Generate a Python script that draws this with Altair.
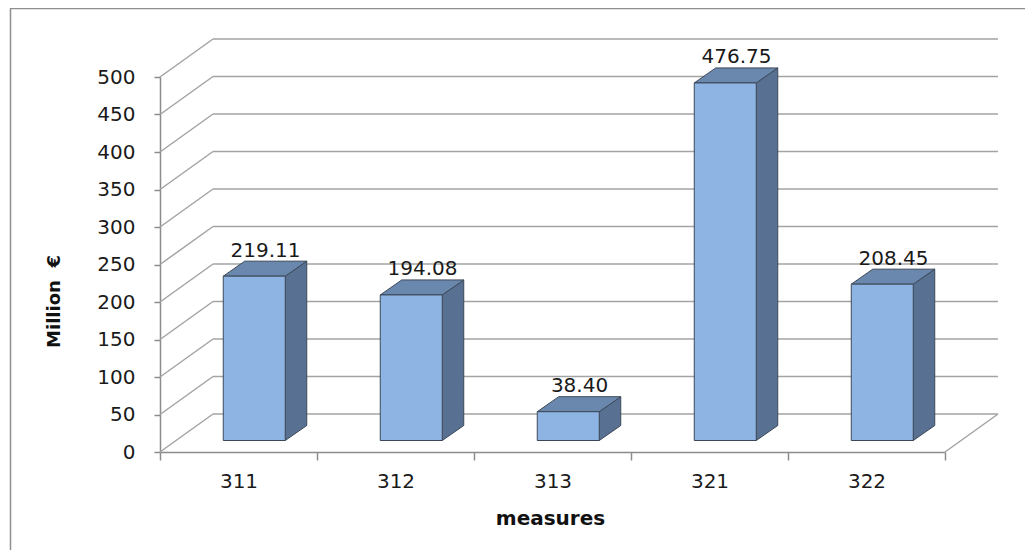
import json
import altair as alt
import pandas as pd

# ---- data ----
categories = ["311", "312", "313", "321", "322"]
values = [219.11, 194.08, 38.40, 476.75, 208.45]
value_labels = ["219.11", "194.08", "38.40", "476.75", "208.45"]
y_ticks = list(range(0, 501, 50))

# ---- geometry / style constants ----
W, H = 785, 375
X_MAX, Y_MAX = len(categories), 500
PX_X = W / X_MAX          # px per x unit
PX_Y = H / Y_MAX          # px per y unit
WALL_DX, WALL_DY = 53, 38           # perspective depth of the back wall (px)
BAR_DX, BAR_DY = 21.5, 15           # depth of each bar (px)
FRONT_DX = (WALL_DX - BAR_DX) / 2   # bars sit in the middle of the depth
FRONT_DY = (WALL_DY - BAR_DY) / 2
BAR_W = 62 / PX_X                   # bar width in x units
DDX = BAR_DX / PX_X
DDY = BAR_DY / PX_Y

FONT = "DejaVu Sans"
GRID = "#a3a3a3"
AXIS = "#8c8c8c"
FRONT = "#8db4e2"
TOP = "#6a88ae"
SIDE = "#587193"
EDGE = "#3c4858"

xs = alt.Scale(domain=[0, X_MAX], nice=False, zero=False)
ys = alt.Scale(domain=[0, Y_MAX], nice=False)

bars = pd.DataFrame({
    "name": categories,
    "value": values,
    "label": value_labels,
    "xc": [i + 0.5 for i in range(len(categories))],
})
bars["xl"] = bars["xc"] - BAR_W / 2
bars["xr"] = bars["xc"] + BAR_W / 2

side_rows, top_rows = [], []
for name, v, xl, xr in zip(bars["name"], bars["value"], bars["xl"], bars["xr"]):
    side_rows.append({"name": name, "sx": xr, "sy": v, "sy2": 0.0})
    side_rows.append({"name": name, "sx": xr + DDX, "sy": v + DDY, "sy2": DDY})
    top_rows.append({"name": name, "ty": v, "tx": xl, "tx2": xr})
    top_rows.append({"name": name, "ty": v + DDY, "tx": xl + DDX, "tx2": xr + DDX})
side = pd.DataFrame(side_rows)
top = pd.DataFrame(top_rows)
grid = pd.DataFrame({"v": y_ticks})
one = pd.DataFrame({"a": [0]})

labels_js = json.dumps(categories)

x_axis = alt.Axis(
    values=list(range(X_MAX + 1)), labelExpr=f"{labels_js}[datum.value] || ''",
    labelOffset=PX_X / 2, labelFlush=False, labelOverlap=False,
    tickSize=8, tickColor=AXIS, domainColor=AXIS, domainWidth=1.5, tickWidth=1.5,
    grid=False, labelPadding=11, labelFontSize=20, labelColor="#1a1a1a",
    title="measures", titleFontSize=20, titleFontWeight="bold", titleColor="#111",
    titleX=390, titleY=72, titleAlign="center", titleBaseline="alphabetic",
)
y_axis = alt.Axis(
    values=y_ticks, tickSize=6, tickColor=AXIS, domainColor=AXIS, domainWidth=1.5,
    tickWidth=1.5, grid=False, labelPadding=19, labelFontSize=20, labelColor="#1a1a1a",
    labelOverlap=False, labelFlush=False,
    title="Million\u00a0\u00a0€", titleFontSize=18, titleFontWeight="bold", titleColor="#111",
    titleAngle=270, titleX=-106, titleY=224, titleAlign="center",
    titleBaseline="middle",
)


def X(field=None, **kw):
    if field is None:
        return alt.X(scale=xs, axis=x_axis, type="quantitative", **kw)
    return alt.X(field, scale=xs, axis=x_axis, **kw)


def Y(field=None, **kw):
    if field is None:
        return alt.Y(scale=ys, axis=y_axis, type="quantitative", **kw)
    return alt.Y(field, scale=ys, axis=y_axis, **kw)


# ---- back wall grid (perspective) ----
grid_diag = alt.Chart(grid).mark_rule(
    color=GRID, strokeWidth=1.5, x2Offset=WALL_DX, y2Offset=-WALL_DY
).encode(x=X(datum=0), x2=alt.datum(0), y=Y("v:Q"), y2="v:Q")

grid_back = alt.Chart(grid).mark_rule(
    color=GRID, strokeWidth=1.5, xOffset=WALL_DX, x2Offset=WALL_DX,
    yOffset=-WALL_DY, y2Offset=-WALL_DY
).encode(x=X(datum=0), x2=alt.datum(X_MAX), y=Y("v:Q"))

floor_right = alt.Chart(one).mark_rule(
    color=GRID, strokeWidth=1.5, x2Offset=WALL_DX, y2Offset=-WALL_DY
).encode(x=X(datum=X_MAX), x2=alt.datum(X_MAX), y=Y(datum=0), y2=alt.datum(0))

# ---- bar faces ----
side_face = alt.Chart(side).mark_area(
    color=SIDE, stroke=EDGE, strokeWidth=1,
    xOffset=FRONT_DX, yOffset=-FRONT_DY, y2Offset=-FRONT_DY
).encode(x=X("sx:Q"), y=Y("sy:Q", stack=None), y2="sy2:Q", detail="name:N")

top_face = alt.Chart(top).mark_area(
    orient="horizontal", color=TOP, stroke=EDGE, strokeWidth=1,
    xOffset=FRONT_DX, x2Offset=FRONT_DX, yOffset=-FRONT_DY
).encode(y=Y("ty:Q"), x=X("tx:Q", stack=None), x2="tx2:Q", detail="name:N")

front_face = alt.Chart(bars).mark_rect(
    color=FRONT, stroke=EDGE, strokeWidth=1,
    xOffset=FRONT_DX, x2Offset=FRONT_DX, yOffset=-FRONT_DY, y2Offset=-FRONT_DY
).encode(x=X("xl:Q"), x2="xr:Q", y=Y("value:Q"), y2=alt.datum(0))

value_text = alt.Chart(bars).mark_text(
    dx=27, dy=-31, baseline="alphabetic", align="center",
    fontSize=20, font=FONT, color="#1a1a1a"
).encode(x=X("xc:Q"), y=Y("value:Q"), text="label:N")

border = alt.Chart(one).mark_rect(
    filled=False, stroke="#8f8f8f", strokeWidth=1.5
).encode(x=alt.value(-149.5), x2=alt.value(W + 200), y=alt.value(-68.5), y2=alt.value(H + 200))

chart = alt.layer(
    grid_diag, border, grid_back, floor_right, side_face, top_face, front_face, value_text
).properties(
    width=W, height=H,
    padding={"left": 152, "top": 69, "right": 80, "bottom": 98},
    autosize=alt.AutoSizeParams(type="none"),
).configure_view(stroke=None).configure_axis(
    labelFont=FONT, titleFont=FONT
).configure_text(font=FONT)

chart.save("out.html", embed_options={"renderer": "svg", "actions": False})
